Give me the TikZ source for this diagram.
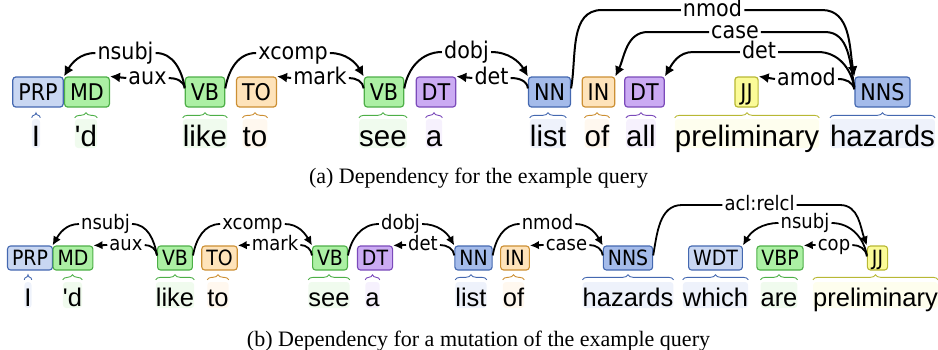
\documentclass[tikz,border=0pt]{standalone}
\usepackage{fontspec}
\setmainfont{Liberation Serif}
\newfontfamily\tagfont{DejaVu Sans}[FakeStretch=0.9]
\newfontfamily\wordfont{Liberation Sans}[Ligatures=TeXOff]
\usetikzlibrary{arrows.meta,decorations.pathreplacing}

\definecolor{bluebd}{HTML}{4468B0}
\definecolor{bluefill}{HTML}{A4BBEA}
\definecolor{lbluefill}{HTML}{C9D7F2}
\definecolor{bluebg}{HTML}{EEF2FB}
\definecolor{greenbd}{HTML}{4DAF47}
\definecolor{greenfill}{HTML}{ACF0A4}
\definecolor{greenbg}{HTML}{F0FBEE}
\definecolor{orangebd}{HTML}{CC8F33}
\definecolor{orangefill}{HTML}{FEE3BA}
\definecolor{orangebg}{HTML}{FFF8EF}
\definecolor{purplebd}{HTML}{7B4ABA}
\definecolor{purplefill}{HTML}{CBABF3}
\definecolor{purplebg}{HTML}{F6F1FD}
\definecolor{yellowbd}{HTML}{B8B834}
\definecolor{yellowfill}{HTML}{FBFB98}
\definecolor{yellowbg}{HTML}{FEFEEE}

\tikzset{
  tagA/.style={draw, rounded corners=3pt, line width=1.2pt, inner xsep=5.5pt, inner ysep=0pt,
    minimum height=30pt, text height=16.6pt, text depth=0pt, font=\tagfont\fontsize{23}{23}\selectfont},
  tagB/.style={draw, rounded corners=3pt, line width=1.1pt, inner xsep=4.5pt, inner ysep=0pt,
    minimum height=24pt, text height=15.2pt, text depth=0pt, font=\tagfont\fontsize{21}{21}\selectfont},
  cblue/.style={fill=bluefill, draw=bluebd},
  clblue/.style={fill=lbluefill, draw=bluebd},
  cgreen/.style={fill=greenfill, draw=greenbd},
  corange/.style={fill=orangefill, draw=orangebd},
  cpurple/.style={fill=purplefill, draw=purplebd},
  cyellow/.style={fill=yellowfill, draw=yellowbd},
  wordA/.style={inner sep=0pt, rounded corners=3pt, anchor=base, text height=27.5pt, text depth=1.5pt,
    font=\wordfont\fontsize{29.5}{30}\selectfont},
  wordB/.style={inner sep=0pt, rounded corners=3pt, anchor=base, text height=24pt, text depth=2pt,
    font=\wordfont\fontsize{25.5}{26}\selectfont},
  labA/.style={inner xsep=2pt, inner ysep=0pt, text height=12.6pt, text depth=0pt,
    font=\tagfont\fontsize{23}{23}\selectfont},
  labB/.style={inner xsep=2pt, inner ysep=0pt, text height=11pt, text depth=0pt,
    font=\tagfont\fontsize{20}{20}\selectfont},
  arcA/.style={line width=2pt, -{Latex[length=10pt,width=10pt]}},
  arcB/.style={line width=1.8pt, -{Latex[length=9pt,width=8.5pt]}},
  br/.style={decorate, decoration={brace, amplitude=5pt}, line width=0.9pt, draw=#1}
}

\begin{document}
\begin{tikzpicture}[x=1pt, y=1pt]
    \useasboundingbox (0,0) rectangle (938,-349);

    % (a)
    \node[tagA,clblue]  (a1)  at (38,-92)    {PRP};
    \node[tagA,cgreen]  (a2)  at (87,-92)    {MD};
    \node[tagA,cgreen]  (a3)  at (205,-92)   {VB};
    \node[tagA,corange] (a4)  at (256.5,-92) {TO};
    \node[tagA,cgreen]  (a5)  at (384,-92)   {VB};
    \node[tagA,cpurple] (a6)  at (436,-92)   {DT};
    \node[tagA,cblue]   (a7)  at (549.5,-92) {NN};
    \node[tagA,corange] (a8)  at (598.5,-92) {IN};
    \node[tagA,cpurple] (a9)  at (644.5,-92) {DT};
    \node[tagA,cyellow] (a10) at (746.5,-92) {JJ};
    \node[tagA,cblue]   (a11) at (882.5,-92) {NNS};

    \node[wordA,fill=bluebg]   (wa1)  at (36,-146.5)  {I};
    \node[wordA,fill=greenbg]  (wa2)  at (86,-146.5)  {'d};
    \node[wordA,fill=greenbg]  (wa3)  at (205,-146.5) {like};
    \node[wordA,fill=orangebg] (wa4)  at (255,-146.5) {to};
    \node[wordA,fill=greenbg]  (wa5)  at (383,-146.5) {see};
    \node[wordA,fill=purplebg] (wa6)  at (434,-146.5) {a};
    \node[wordA,fill=bluebg]   (wa7)  at (548,-146.5) {list};
    \node[wordA,fill=orangebg] (wa8)  at (597,-146.5) {of};
    \node[wordA,fill=purplebg] (wa9)  at (641,-146.5) {all};
    \node[wordA,fill=yellowbg] (wa10) at (747,-146.5) {preliminary};
    \node[wordA,fill=bluebg]   (wa11) at (882.5,-146.5) {hazards};

    \draw[br=bluebd]   ([yshift=1pt]wa1.north west) -- ([yshift=1pt]wa1.north east);
    \draw[br=greenbd]  ([yshift=1pt]wa2.north west) -- ([yshift=1pt]wa2.north east);
    \draw[br=greenbd]  ([yshift=1pt]wa3.north west) -- ([yshift=1pt]wa3.north east);
    \draw[br=orangebd] ([yshift=1pt]wa4.north west) -- ([yshift=1pt]wa4.north east);
    \draw[br=greenbd]  ([yshift=1pt]wa5.north west) -- ([yshift=1pt]wa5.north east);
    \draw[br=purplebd] ([yshift=1pt]wa6.north west) -- ([yshift=1pt]wa6.north east);
    \draw[br=bluebd]   ([yshift=1pt]wa7.north west) -- ([yshift=1pt]wa7.north east);
    \draw[br=orangebd] ([yshift=1pt]wa8.north west) -- ([yshift=1pt]wa8.north east);
    \draw[br=purplebd] ([yshift=1pt]wa9.north west) -- ([yshift=1pt]wa9.north east);
    \draw[br=yellowbd] ([yshift=1pt]wa10.north west) -- ([yshift=1pt]wa10.north east);
    \draw[br=bluebd]   ([yshift=1pt]wa11.north west) -- ([yshift=1pt]wa11.north east);

    \node[labA] (nsubja) at (125.5,-53) {nsubj};
    \node[labA] (auxa)   at (147.5,-78) {aux};
    \node[labA] (xcompa) at (293,-53)   {xcomp};
    \node[labA] (marka)  at (320,-78)   {mark};
    \node[labA] (dobja)  at (466.5,-52) {dobj};
    \node[labA] (deta)   at (491.5,-78) {det};
    \node[labA] (nmoda)  at (712.5,-10) {nmod};
    \node[labA] (casea)  at (735,-32)   {case};
    \node[labA] (detb)   at (759,-52)   {det};
    \node[labA] (amoda)  at (806.5,-79) {amod};

    \draw[arcA] ([yshift=-11pt]a3.north west) to[out=100,in=0] (nsubja.east)
        (nsubja.west) to[out=180,in=60] (a2.north west);
    \draw[arcA] ([yshift=-12pt]a3.north west) to[out=95,in=0] (auxa.east)
        (auxa.west) -- (a2.north east);
    \draw[arcA] ([yshift=-12pt]a3.north east) to[out=80,in=180] (xcompa.west)
        (xcompa.east) to[out=0,in=120] (a5.north west);
    \draw[arcA] ([yshift=-12pt]a5.north west) to[out=95,in=0] (marka.east)
        (marka.west) -- (a4.north east);
    \draw[arcA] ([yshift=-12pt]a5.north east) to[out=80,in=180] (dobja.west)
        (dobja.east) to[out=0,in=120] (a7.north west);
    \draw[arcA] ([yshift=-12pt]a7.north west) to[out=95,in=0] (deta.east)
        (deta.west) -- (a6.north east);
    \draw[arcA] ([yshift=-12pt]a7.north east) to[out=80,in=180] (602,-10) -- (nmoda.west)
        (nmoda.east) -- (822,-10) to[out=0,in=100] (a11.north west);
    \draw[arcA] ([yshift=-11pt]a11.north west) to[out=100,in=0] (825,-32) -- (casea.east)
        (casea.west) -- (648,-32) to[out=180,in=65] (a8.north east);
    \draw[arcA] ([yshift=-11pt]a11.north west) to[out=100,in=0] (818,-52) -- (detb.east)
        (detb.west) -- (693,-52) to[out=180,in=60] (a9.north east);
    \draw[arcA] ([yshift=-13pt]a11.north west) to[out=100,in=0] (amoda.east)
        (amoda.west) -- (a10.north east);

    \node[anchor=base, font=\fontsize{22}{22}\selectfont] (capa) at (478.5,-183)
        {(a) Dependency for the example query};

    % (b)
    \node[tagB,clblue]  (b1)  at (30,-258)    {PRP};
    \node[tagB,cgreen]  (b2)  at (73,-258)    {MD};
    \node[tagB,cgreen]  (b3)  at (175,-258)   {VB};
    \node[tagB,corange] (b4)  at (219.5,-258) {TO};
    \node[tagB,cgreen]  (b5)  at (330,-258)   {VB};
    \node[tagB,cpurple] (b6)  at (375,-258)   {DT};
    \node[tagB,cblue]   (b7)  at (473.5,-258) {NN};
    \node[tagB,corange] (b8)  at (515,-258)   {IN};
    \node[tagB,cblue]   (b9)  at (628,-258)   {NNS};
    \node[tagB,clblue]  (b10) at (715.5,-258) {WDT};
    \node[tagB,cgreen]  (b11) at (780,-258)   {VBP};
    \node[tagB,cyellow] (b12) at (877.5,-258) {JJ};

    \node[wordB,fill=bluebg]   (wb1)  at (28,-306)    {I};
    \node[wordB,fill=greenbg]  (wb2)  at (72.5,-306)  {'d};
    \node[wordB,fill=greenbg]  (wb3)  at (175,-306)   {like};
    \node[wordB,fill=orangebg] (wb4)  at (218,-306)   {to};
    \node[wordB,fill=greenbg]  (wb5)  at (329,-306)   {see};
    \node[wordB,fill=purplebg] (wb6)  at (372.5,-306) {a};
    \node[wordB,fill=bluebg]   (wb7)  at (471,-306)   {list};
    \node[wordB,fill=orangebg] (wb8)  at (513.5,-306) {of};
    \node[wordB,fill=bluebg]   (wb9)  at (628,-306)   {hazards};
    \node[wordB,fill=bluebg]   (wb10) at (715.5,-306) {which};
    \node[wordB,fill=greenbg]  (wb11) at (779,-306)   {are};
    \node[wordB,fill=yellowbg] (wb12) at (875.5,-306) {preliminary};

    \draw[br=bluebd]   ([yshift=2pt]wb1.north west) -- ([yshift=2pt]wb1.north east);
    \draw[br=greenbd]  ([yshift=2pt]wb2.north west) -- ([yshift=2pt]wb2.north east);
    \draw[br=greenbd]  ([yshift=2pt]wb3.north west) -- ([yshift=2pt]wb3.north east);
    \draw[br=orangebd] ([yshift=2pt]wb4.north west) -- ([yshift=2pt]wb4.north east);
    \draw[br=greenbd]  ([yshift=2pt]wb5.north west) -- ([yshift=2pt]wb5.north east);
    \draw[br=purplebd] ([yshift=2pt]wb6.north west) -- ([yshift=2pt]wb6.north east);
    \draw[br=bluebd]   ([yshift=2pt]wb7.north west) -- ([yshift=2pt]wb7.north east);
    \draw[br=orangebd] ([yshift=2pt]wb8.north west) -- ([yshift=2pt]wb8.north east);
    \draw[br=bluebd]   ([yshift=2pt]wb9.north west) -- ([yshift=2pt]wb9.north east);
    \draw[br=bluebd]   ([yshift=2pt]wb10.north west) -- ([yshift=2pt]wb10.north east);
    \draw[br=greenbd]  ([yshift=2pt]wb11.north west) -- ([yshift=2pt]wb11.north east);
    \draw[br=yellowbd] ([yshift=2pt]wb12.north west) -- ([yshift=2pt]wb12.north east);

    \node[labB] (nsubjb) at (105.5,-224) {nsubj};
    \node[labB] (auxb)   at (126,-245)   {aux};
    \node[labB] (xcompb) at (252.5,-224) {xcomp};
    \node[labB] (markb)  at (275,-245)   {mark};
    \node[labB] (dobjb)  at (400.5,-224) {dobj};
    \node[labB] (detc)   at (423,-245)   {det};
    \node[labB] (nmodb)  at (547.5,-224) {nmod};
    \node[labB] (caseb)  at (566.5,-245) {case};
    \node[labB] (aclb)   at (759.5,-205) {acl:relcl};
    \node[labB] (nsubjc) at (805,-223)   {nsubj};
    \node[labB] (copb)   at (834,-245)   {cop};

    \draw[arcB] ([yshift=-10pt]b3.north west) to[out=100,in=0] (nsubjb.east)
        (nsubjb.west) to[out=180,in=60] (b2.north west);
    \draw[arcB] ([yshift=-10pt]b3.north west) to[out=95,in=0] (auxb.east)
        (auxb.west) -- (b2.north east);
    \draw[arcB] ([yshift=-10pt]b3.north east) to[out=80,in=180] (xcompb.west)
        (xcompb.east) to[out=0,in=120] (b5.north west);
    \draw[arcB] ([yshift=-10pt]b5.north west) to[out=95,in=0] (markb.east)
        (markb.west) -- (b4.north east);
    \draw[arcB] ([yshift=-10pt]b5.north east) to[out=80,in=180] (dobjb.west)
        (dobjb.east) to[out=0,in=120] (b7.north west);
    \draw[arcB] ([yshift=-10pt]b7.north west) to[out=95,in=0] (detc.east)
        (detc.west) -- (b6.north east);
    \draw[arcB] ([yshift=-10pt]b7.north east) to[out=80,in=180] (nmodb.west)
        (nmodb.east) to[out=0,in=120] (b9.north west);
    \draw[arcB] ([yshift=-10pt]b9.north west) to[out=95,in=0] (caseb.east)
        (caseb.west) -- (b8.north east);
    \draw[arcB] ([yshift=-10pt]b9.north east) to[out=80,in=180] (682,-205) -- (aclb.west)
        (aclb.east) -- (840,-205) to[out=0,in=110] (b12.north west);
    \draw[arcB] ([yshift=-10pt]b12.north west) to[out=100,in=0] (nsubjc.east)
        (nsubjc.west) to[out=180,in=60] (b10.north east);
    \draw[arcB] ([yshift=-11pt]b12.north west) to[out=95,in=0] (copb.east)
        (copb.west) -- (b11.north east);

    \node[anchor=base, font=\fontsize{22}{22}\selectfont] (capb) at (478.5,-346)
        {(b) Dependency for a mutation of the example query};
\end{tikzpicture}
\end{document}
